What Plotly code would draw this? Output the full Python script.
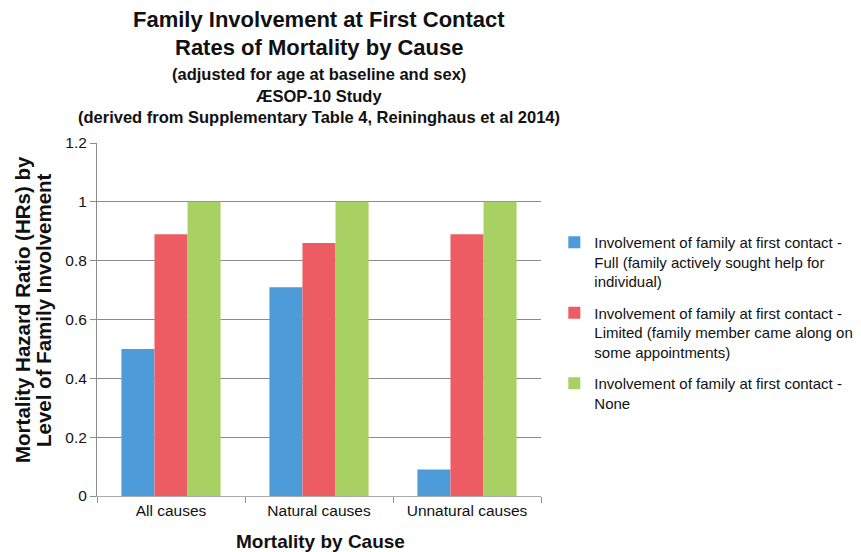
import plotly.graph_objects as go

categories = ["All causes", "Natural causes", "Unnatural causes"]
full_vals = [0.50, 0.71, 0.09]
limited_vals = [0.89, 0.86, 0.89]
none_vals = [1.0, 1.0, 1.0]

series_names = [
    "Involvement of family at first contact -<br>Full (family actively sought help for<br>individual)",
    "Involvement of family at first contact -<br>Limited (family member came along on<br>some appointments)",
    "Involvement of family at first contact -<br>None",
]
series_vals = [full_vals, limited_vals, none_vals]
colors = ["#4d9bd8", "#ee5c63", "#a8d062"]

title_lines = [
    ("Family Involvement at First Contact", 22, 20),
    ("Rates of Mortality by Cause", 22, 47),
    ("(adjusted for age at baseline and sex)", 16.5, 74),
    ("ÆSOP-10 Study", 16.5, 96),
    ("(derived from Supplementary Table 4, Reininghaus et al 2014)", 16.5, 117),
]
ytitle_lines = [("Mortality Hazard Ratio (HRs) by", 22), ("Level of Family Involvement", 43)]
xtitle = "Mortality by Cause"

# the page adds an 8px body margin, so the figure is drawn 8px smaller
W, H = 853, 544
FONT = "Liberation Sans, Arial, sans-serif"
TXT = "#111111"

# positions below are in page pixels; plot area spans x 97..541, y 143..496
def px(xp):
    return (xp - 97) / 444

def py(yp):
    return (496 - yp) / 353

fig = go.Figure()
for i, (name, vals, col) in enumerate(zip(series_names, series_vals, colors)):
    fig.add_trace(go.Bar(
        x=categories, y=vals, name=name, legendgroup=f"g{i}",
        marker=dict(color=col, line=dict(width=0)),
    ))

annotations = []
for text, size, ypx in title_lines:
    annotations.append(dict(
        text=f"<b>{text}</b>", xref="paper", yref="paper",
        x=px(319), y=py(ypx), xanchor="center", yanchor="middle",
        showarrow=False, font=dict(size=size, family=FONT, color=TXT)))
for text, xpx in ytitle_lines:
    annotations.append(dict(
        text=f"<b>{text}</b>", xref="paper", yref="paper",
        x=px(xpx), y=py(310), xanchor="center", yanchor="middle",
        textangle=-90, showarrow=False, font=dict(size=20.5, family=FONT, color=TXT)))
annotations.append(dict(
    text=f"<b>{xtitle}</b>", xref="paper", yref="paper",
    x=px(320), y=py(541), xanchor="center", yanchor="middle",
    showarrow=False, font=dict(size=19, family=FONT, color=TXT)))

fig.update_layout(
    width=W, height=H,
    paper_bgcolor="white", plot_bgcolor="white",
    font=dict(family=FONT, color=TXT, size=15),
    margin=dict(l=89, r=320, t=135, b=56, autoexpand=False),
    barmode="group", bargap=0.33, bargroupgap=0,
    legend=dict(x=1.03, xanchor="left", y=py(226), yanchor="top",
                valign="top",
                font=dict(size=15, family=FONT, color=TXT),
                tracegroupgap=9, itemwidth=30, bgcolor="rgba(0,0,0,0)"),
    showlegend=True,
    annotations=annotations,
)
fig.update_yaxes(
    range=[0, 1.2], dtick=0.2, tickformat="~g", automargin=False,
    showgrid=True, gridcolor="#8c8c8c", gridwidth=1,
    showline=True, linecolor="#8c8c8c", linewidth=1,
    ticks="outside", ticklen=6, tickcolor="#8c8c8c",
    tickfont=dict(size=15.5, family=FONT, color=TXT),
    zeroline=False,
)
fig.update_xaxes(
    automargin=False,
    showline=True, linecolor="#aaaaaa", linewidth=1,
    ticks="outside", ticklen=6, tickcolor="#8c8c8c", tickson="boundaries",
    tickfont=dict(size=15.5, family=FONT, color=TXT),
)

fig.write_html("out.html")
